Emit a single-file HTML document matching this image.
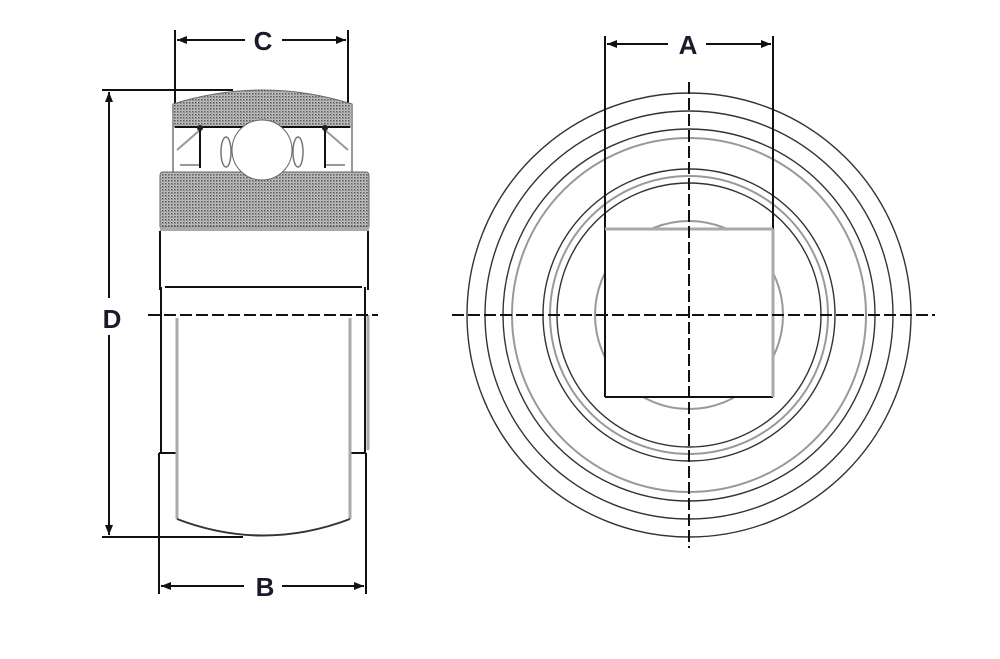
<!DOCTYPE html>
<html><head><meta charset="utf-8"><style>
html,body{margin:0;padding:0;background:#fff;}
svg{display:block;}
text{font-family:"Liberation Sans",Arial,sans-serif;font-weight:bold;fill:#1a1a2a;}
</style></head><body>
<svg width="1000" height="659" viewBox="0 0 1000 659" xmlns="http://www.w3.org/2000/svg">
<defs>
<pattern id="h" width="3" height="3" patternUnits="userSpaceOnUse">
<rect width="3" height="3" fill="#c4c4c4"/>
<rect width="1.5" height="1.5" fill="#555"/>
<rect x="1.5" y="1.5" width="1" height="1" fill="#777"/>
</pattern>
<marker id="ar" viewBox="0 0 10 10" refX="10" refY="5" markerWidth="14" markerHeight="10" markerUnits="userSpaceOnUse" orient="auto"><path d="M0,1 L10,5 L0,9 Z" fill="#111"/></marker>
</defs>
<g stroke="#111" stroke-width="2" fill="none">
<line x1="175" y1="30" x2="175" y2="104"/>
<line x1="348" y1="30" x2="348" y2="104"/>
<line x1="245" y1="40" x2="177" y2="40" marker-end="url(#ar)"/>
<line x1="282" y1="40" x2="346" y2="40" marker-end="url(#ar)"/>
<line x1="102" y1="90" x2="233" y2="90"/>
<line x1="102" y1="537" x2="243" y2="537"/>
<line x1="109" y1="298" x2="109" y2="92" marker-end="url(#ar)"/>
<line x1="109" y1="335" x2="109" y2="535" marker-end="url(#ar)"/>
<line x1="159" y1="453" x2="159" y2="594"/>
<line x1="366" y1="453" x2="366" y2="594"/>
<line x1="244" y1="586" x2="161" y2="586" marker-end="url(#ar)"/>
<line x1="282" y1="586" x2="364" y2="586" marker-end="url(#ar)"/>
</g>
<path d="M173,104 Q262,76 352,104 L352,127 L173,127 Z" fill="url(#h)" stroke="#666" stroke-width="1"/>
<g stroke="#999" stroke-width="2" fill="none">
<line x1="173" y1="104" x2="173" y2="172"/>
<line x1="352" y1="104" x2="352" y2="172"/>
<path d="M177,150 L200,130 L200,165 L180,165"/>
<path d="M348,150 L325,130 L325,165 L345,165"/>
</g>
<g stroke="#111" stroke-width="2" fill="none">
<line x1="175" y1="127" x2="350" y2="127"/>
<line x1="200" y1="127" x2="200" y2="168"/>
<line x1="325" y1="127" x2="325" y2="168"/>
</g>
<circle cx="200" cy="128" r="3" fill="#222"/>
<circle cx="325" cy="128" r="3" fill="#222"/>
<g stroke="#777" stroke-width="1.5" fill="none">
<ellipse cx="226" cy="152" rx="5" ry="15"/>
<ellipse cx="298" cy="152" rx="5" ry="15"/>
</g>
<path d="M163,172 L366,172 Q369,172 369,176 L369,227 L160,227 L160,176 Q160,172 163,172 Z" fill="url(#h)" stroke="#666" stroke-width="1"/>
<circle cx="262" cy="150" r="30" fill="#fff" stroke="#666" stroke-width="1"/>
<rect x="160" y="227" width="209" height="4" fill="#aaa"/>
<g stroke="#111" stroke-width="2" fill="none">
<line x1="160" y1="231" x2="160" y2="290"/>
<line x1="368" y1="231" x2="368" y2="290"/>
<line x1="165" y1="287" x2="362" y2="287"/>
<line x1="161" y1="287" x2="161" y2="453"/>
<line x1="365" y1="287" x2="365" y2="453"/>
<path d="M159,453 L177,453"/>
<path d="M350,453 L366,453"/>
</g>
<g stroke="#aaa" stroke-width="3" fill="none">
<line x1="177" y1="318" x2="177" y2="519"/>
<line x1="350" y1="318" x2="350" y2="519"/>
<line x1="368" y1="315" x2="368" y2="450"/>
</g>
<path d="M177,519 Q263,552 350,519" stroke="#333" stroke-width="2" fill="none"/>
<line x1="148" y1="315" x2="378" y2="315" stroke="#111" stroke-width="2" stroke-dasharray="12,4"/>
<text x="263" y="50" font-size="26" text-anchor="middle">C</text>
<text x="112" y="328" font-size="26" text-anchor="middle">D</text>
<text x="265" y="596" font-size="26" text-anchor="middle">B</text>

<g fill="none" stroke="#333" stroke-width="1.4">
<circle cx="689" cy="315" r="222"/>
<circle cx="689" cy="315" r="204"/>
<circle cx="689" cy="315" r="186"/>
<circle cx="689" cy="315" r="146"/>
<circle cx="689" cy="315" r="132"/>
</g>
<g fill="none" stroke="#999" stroke-width="2">
<circle cx="689" cy="315" r="177"/>
<circle cx="689" cy="315" r="139"/>
<circle cx="689" cy="315" r="94"/>
</g>
<rect x="605" y="229" width="168" height="168" fill="#fff" stroke="none"/>
<g stroke="#111" stroke-width="2" fill="none">
<line x1="605" y1="36" x2="605" y2="397"/>
<line x1="773" y1="36" x2="773" y2="229"/>
<line x1="605" y1="397" x2="773" y2="397"/>
<line x1="668" y1="44" x2="607" y2="44" marker-end="url(#ar)"/>
<line x1="706" y1="44" x2="771" y2="44" marker-end="url(#ar)"/>
</g>
<g stroke="#aaa" stroke-width="3" fill="none">
<line x1="605" y1="229" x2="773" y2="229"/>
<line x1="773" y1="229" x2="773" y2="397"/>
</g>
<g stroke="#111" stroke-width="2" stroke-dasharray="12,4">
<line x1="689" y1="82" x2="689" y2="548"/>
<line x1="452" y1="315" x2="935" y2="315"/>
</g>
<text x="688" y="54" font-size="26" text-anchor="middle">A</text>
</svg>
</body></html>
